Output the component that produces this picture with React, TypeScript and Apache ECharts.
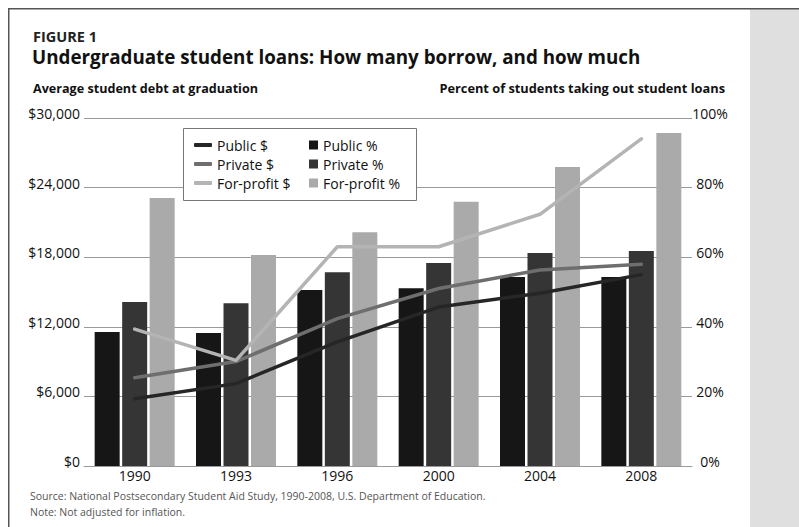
import React, { useEffect, useRef } from 'react';
import * as echarts from 'echarts';

const years = ['1990', '1993', '1996', '2000', '2004', '2008'];
const publicDebt = [5800, 7100, 10700, 13700, 14900, 16500];
const privateDebt = [7600, 9000, 12700, 15300, 16900, 17400];
const forProfitDebt = [11800, 9100, 18900, 18900, 21700, 28200];
const publicPct = [38.5, 38.2, 50.6, 51.1, 54.3, 54.3];
const privatePct = [47.1, 46.8, 55.7, 58.3, 61.2, 61.8];
const forProfitPct = [77, 60.6, 67.2, 75.9, 85.9, 95.7];

const lineNames = ['Public $', 'Private $', 'For-profit $'];
const barNames = ['Public %', 'Private %', 'For-profit %'];
const lineColors = ['#262626', '#6e6e6e', '#b4b4b4'];
const barColors = ['#161616', '#353535', '#aaaaaa'];

const FONT = '"Open Sans", "Noto Sans", sans-serif';

export default function App() {
  const ref = useRef<HTMLDivElement>(null);
  useEffect(() => {
    if (!ref.current) return;
    const chart = echarts.init(ref.current, undefined, { renderer: 'svg' });
    const debtSets = [publicDebt, privateDebt, forProfitDebt];
    const pctSets = [publicPct, privatePct, forProfitPct];
    const series: any[] = [];
    barNames.forEach((n, i) => {
      series.push({
        name: n,
        type: 'bar',
        yAxisIndex: 1,
        data: pctSets[i],
        barWidth: 25,
        barGap: '10%',
        itemStyle: { color: barColors[i] },
        z: 2,
      });
    });
    lineNames.forEach((n, i) => {
      series.push({
        name: n,
        type: 'line',
        yAxisIndex: 0,
        data: debtSets[i],
        showSymbol: false,
        symbol: 'none',
        lineStyle: { color: lineColors[i], width: 3.5, cap: 'round', join: 'round' },
        itemStyle: { color: lineColors[i] },
        z: 5,
      });
    });

    const yLabel = {
      fontSize: 14,
      color: '#111',
      fontFamily: FONT,
      verticalAlign: 'bottom',
      lineHeight: 9,
    };

    chart.setOption({
      animation: false,
      textStyle: { fontFamily: FONT },
      grid: { left: 84, right: 107, top: 118, bottom: 61, containLabel: false },
      xAxis: {
        type: 'category',
        data: years,
        axisTick: { show: false },
        axisLine: { show: true, lineStyle: { color: '#9a9a9a', width: 1 } },
        axisLabel: { fontSize: 14, color: '#111', margin: 2, fontFamily: FONT },
        z: 3,
      },
      yAxis: [
        {
          type: 'value',
          min: 0,
          max: 30000,
          interval: 6000,
          position: 'left',
          axisLine: { show: false },
          axisTick: { show: false },
          splitLine: { show: true, lineStyle: { color: '#9a9a9a', width: 1 } },
          axisLabel: {
            ...yLabel,
            margin: 4,
            formatter: (v: number) => '$' + v.toLocaleString('en-US'),
          },
        },
        {
          type: 'value',
          min: 0,
          max: 100,
          interval: 20,
          position: 'right',
          axisLine: { show: false },
          axisTick: { show: false },
          splitLine: { show: false },
          axisLabel: {
            ...yLabel,
            margin: 18,
            align: 'center',
            formatter: '{value}%',
          },
        },
      ],
      legend: [
        {
          data: lineNames,
          orient: 'vertical',
          left: 194,
          top: 137,
          padding: 0,
          icon: 'roundRect',
          itemWidth: 18,
          itemHeight: 4,
          itemGap: 3,
          z: 20,
          selectedMode: false,
          itemStyle: { borderWidth: 0 },
          textStyle: { fontSize: 14, color: '#111', lineHeight: 16, fontFamily: FONT },
        },
        {
          data: barNames,
          orient: 'vertical',
          left: 309,
          top: 137,
          padding: 0,
          icon: 'rect',
          itemWidth: 9,
          itemHeight: 9,
          itemGap: 3,
          z: 20,
          selectedMode: false,
          itemStyle: { borderWidth: 0 },
          textStyle: { fontSize: 14, color: '#111', lineHeight: 16, fontFamily: FONT },
        },
      ],
      graphic: [
        { type: 'rect', z: 0, shape: { x: 750, y: 9, width: 49, height: 518 }, style: { fill: '#dfdfdf' } },
        { type: 'line', z: 1, shape: { x1: 8, y1: 8.75, x2: 799, y2: 8.75 }, style: { stroke: '#555', lineWidth: 1.5 } },
        { type: 'line', z: 1, shape: { x1: 8.75, y1: 8, x2: 8.75, y2: 527 }, style: { stroke: '#555', lineWidth: 1.5 } },
        { type: 'rect', z: 10, shape: { x: 183.5, y: 128.5, width: 233, height: 72 }, style: { fill: '#fff', stroke: '#777', lineWidth: 1 } },
        { type: 'text', z: 10, x: 33, y: 36, style: { text: 'FIGURE 1', font: `bold 14.5px ${FONT}`, fill: '#222', verticalAlign: 'middle' } },
        { type: 'text', z: 10, x: 32, y: 57, style: { text: 'Undergraduate student loans: How many borrow, and how much', font: `bold 18.8px ${FONT}`, fill: '#111', verticalAlign: 'middle' } },
        { type: 'text', z: 10, x: 33, y: 88, style: { text: 'Average student debt at graduation', font: `bold 12.6px ${FONT}`, fill: '#111', verticalAlign: 'middle' } },
        { type: 'text', z: 10, x: 725, y: 88, style: { text: 'Percent of students taking out student loans', font: `bold 12.8px ${FONT}`, fill: '#111', verticalAlign: 'middle', align: 'right' } },
        { type: 'text', z: 10, x: 30, y: 496, style: { text: 'Source: National Postsecondary Student Aid Study, 1990-2008, U.S. Department of Education.', font: `10.5px ${FONT}`, fill: '#555', verticalAlign: 'middle' } },
        { type: 'text', z: 10, x: 30, y: 512, style: { text: 'Note: Not adjusted for inflation.', font: `10.5px ${FONT}`, fill: '#555', verticalAlign: 'middle' } },
      ],
      series,
    });
    return () => chart.dispose();
  }, []);
  return <div ref={ref} style={{ position: 'fixed', left: 0, top: 0, width: 799, height: 527, background: '#fff' }} />;
}
